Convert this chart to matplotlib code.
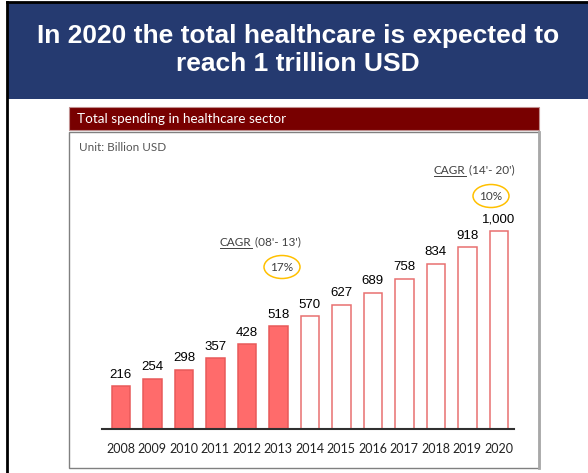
import matplotlib.pyplot as plt
from matplotlib.patches import Rectangle, Ellipse

# data
years = ['2008', '2009', '2010', '2011', '2012', '2013', '2014',
         '2015', '2016', '2017', '2018', '2019', '2020']
spending = [216, 254, 298, 357, 428, 518, 570, 627, 689, 758, 834, 918, 1000]
n_actual = 6  # 2008-2013 actual, rest forecast

title = 'In 2020 the total healthcare is expected to\nreach 1 trillion USD'
subtitle = 'Total spending in healthcare sector'
unit = 'Unit: Billion USD'
cagr_labels = ["(08'- 13')", "(14'- 20')"]
cagr_values = ['17%', '10%']

body_font = 'Lato'
num_font = 'Liberation Sans'
txt_gray = '#404040'

fig = plt.figure(figsize=(5.88, 4.73), dpi=100)

# background layer in pixel coords (y down)
bg = fig.add_axes([0, 0, 1, 1])
bg.set_xlim(0, 588)
bg.set_ylim(473, 0)
bg.axis('off')

# slide header
bg.add_patch(Rectangle((7, 3), 581, 96, color='#253A70', lw=0))
bg.plot([7, 588], [2, 2], color='black', lw=2)
bg.plot([7, 7], [2, 473], color='black', lw=2)
bg.text(298, 50, title, color='white', fontsize=19, fontweight='bold',
        family=num_font, ha='center', va='center', linespacing=1.22)

# dark red subtitle bar
bg.add_patch(Rectangle((69, 107), 470, 23, facecolor='#780000',
                       edgecolor='#C09090', lw=0.8))
bg.text(77, 119, subtitle, color='white', fontsize=9.7, family=body_font,
        ha='left', va='center')

# chart frame
bg.add_patch(Rectangle((69, 132), 470, 336, facecolor='white',
                       edgecolor='#808080', lw=1))
bg.plot([539, 539], [132, 468], color='#A8A8A8', lw=2)
bg.text(79, 147, unit, color='#555555', fontsize=8.4, family=body_font,
        ha='left', va='center')

# bar chart
ax = fig.add_axes([102 / 588, 44 / 473, 412 / 588, 269 / 473])
ax.patch.set_alpha(0)
x = range(len(years))
fills = ['#FF6B6B' if i < n_actual else 'white' for i in x]
edges = ['#E85A5A' if i < n_actual else '#E87070' for i in x]
bars = ax.bar(x, spending, width=0.58, color=fills, edgecolor=edges, linewidth=1.1)
ax.bar_label(bars, labels=[f'{v:,}' for v in spending], padding=4,
             fontsize=9.5, family=num_font, color='black')
ax.set_xlim(-0.6, 12.48)
ax.set_ylim(0, 1358)
ax.set_xticks(list(x))
ax.set_xticklabels(years, fontsize=9, family=body_font, color='#222222')
ax.tick_params(axis='x', length=0, pad=10)
ax.set_yticks([])
for s in ['top', 'right', 'left']:
    ax.spines[s].set_visible(False)
ax.spines['bottom'].set_color('#303030')
ax.spines['bottom'].set_linewidth(1.5)

# CAGR annotations
cagr_pos = [(220, 242, 282, 267), (434, 170, 491, 196)]
fig.canvas.draw()
r = fig.canvas.get_renderer()
for (tx, ty, ex, ey), lab, val in zip(cagr_pos, cagr_labels, cagr_values):
    t1 = bg.text(tx, ty, 'CAGR', fontsize=8.5, family=body_font,
                 color=txt_gray, ha='left', va='center')
    bb = t1.get_window_extent(r)
    w = bb.width * 588 / fig.bbox.width
    bg.plot([tx, tx + w], [ty + 6, ty + 6], color=txt_gray, lw=0.7)
    bg.text(tx + w + 3, ty, lab, fontsize=8.5, family=body_font,
            color=txt_gray, ha='left', va='center')
    bg.add_patch(Ellipse((ex, ey), 36, 23, facecolor='none',
                         edgecolor='#FFC000', lw=1.1))
    bg.text(ex, ey, val, fontsize=8.5, family=body_font, color=txt_gray,
            ha='center', va='center')

fig.savefig('out.png', dpi=100)
